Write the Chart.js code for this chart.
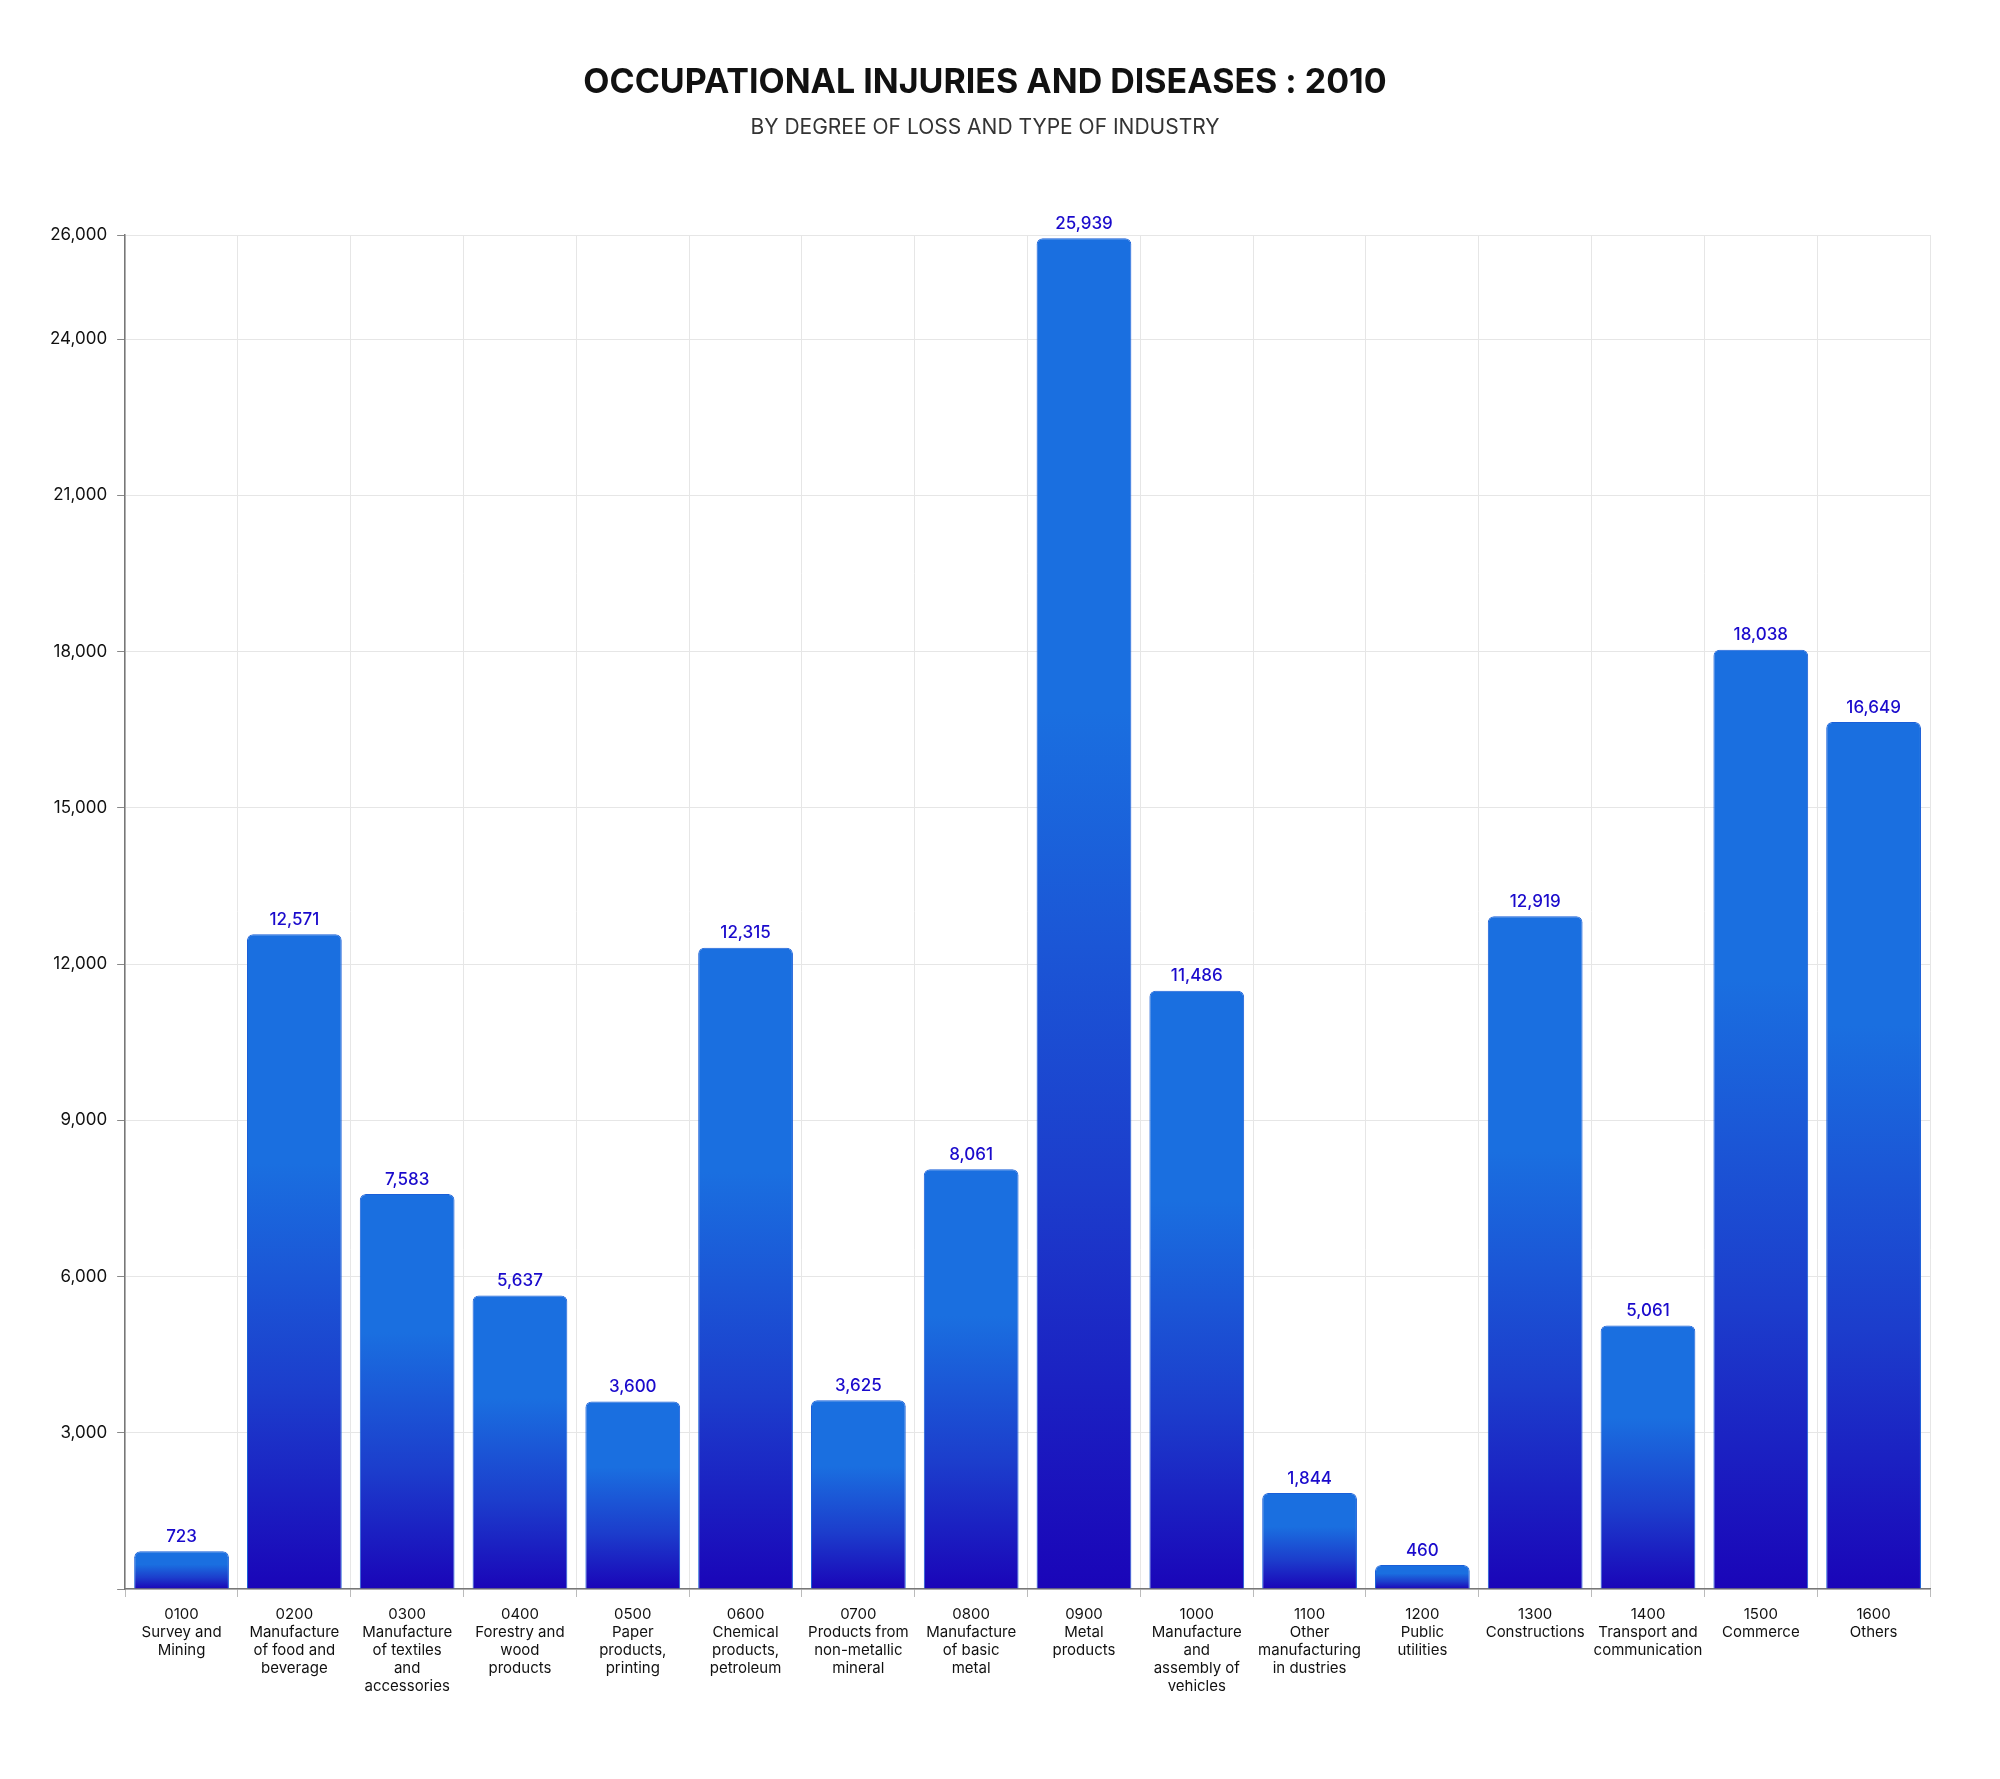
<!DOCTYPE html>
<html>
<head>
<meta charset="utf-8">
<script src="https://cdn.jsdelivr.net/npm/chart.js@4"></script>
<style>
  body { margin: 0; background: #fff; }
  #wrap { width: 2000px; height: 1779px; position: relative; }
</style>
</head>
<body>
<div id="wrap"><canvas id="chart"></canvas></div>
<script>
const categories = [
    ['0100', 'Survey and', 'Mining'],
    ['0200', 'Manufacture', 'of food and', 'beverage'],
    ['0300', 'Manufacture', 'of textiles', 'and', 'accessories'],
    ['0400', 'Forestry and', 'wood', 'products'],
    ['0500', 'Paper', 'products,', 'printing'],
    ['0600', 'Chemical', 'products,', 'petroleum'],
    ['0700', 'Products from', 'non-metallic', 'mineral'],
    ['0800', 'Manufacture', 'of basic', 'metal'],
    ['0900', 'Metal', 'products'],
    ['1000', 'Manufacture', 'and', 'assembly of', 'vehicles'],
    ['1100', 'Other', 'manufacturing', 'in dustries'],
    ['1200', 'Public', 'utilities'],
    ['1300', 'Constructions'],
    ['1400', 'Transport and', 'communication'],
    ['1500', 'Commerce'],
    ['1600', 'Others']
];
const injuries = [723, 12571, 7583, 5637, 3600, 12315, 3625, 8061, 25939, 11486, 1844, 460, 12919, 5061, 18038, 16649];
const yTicks = [0, 3000, 6000, 9000, 12000, 15000, 18000, 21000, 24000, 26000];

const font = 'Inter, "Open Sans", sans-serif';

// vertical gradient per bar, from its top to the baseline
function barGradient(context) {
    const chart = context.chart;
    const { ctx, chartArea, scales } = chart;
    if (!chartArea) return '#1a6fe0';
    const v = context.raw || 0;
    const top = scales.y.getPixelForValue(v);
    const base = scales.y.getPixelForValue(0);
    const g = ctx.createLinearGradient(0, top, 0, base);
    g.addColorStop(0, '#1a6fe0');
    g.addColorStop(0.35, '#1a6fe0');
    g.addColorStop(0.7, '#1c3dcc');
    g.addColorStop(1, '#1a05b8');
    return g;
}

const valueLabels = {
    id: 'valueLabels',
    afterDatasetsDraw(chart) {
        const ctx = chart.ctx;
        const meta = chart.getDatasetMeta(0);
        ctx.save();
        ctx.font = '500 17px ' + font;
        ctx.fillStyle = '#1a0acc';
        ctx.textAlign = 'center';
        ctx.textBaseline = 'bottom';
        meta.data.forEach((bar, i) => {
            ctx.fillText(injuries[i].toLocaleString('en-US'), bar.x, bar.y - 6);
        });
        ctx.restore();
    }
};

new Chart(document.getElementById('chart'), {
    type: 'bar',
    data: {
        labels: categories,
        datasets: [{
            label: 'Injuries',
            data: injuries,
            backgroundColor: barGradient,
            borderColor: '#1a5fd8',
            borderWidth: 1,
            borderRadius: { topLeft: 6, topRight: 6 },
            borderSkipped: 'bottom',
            categoryPercentage: 0.84,
            barPercentage: 1
        }]
    },
    options: {
        responsive: true,
        maintainAspectRatio: false,
        animation: false,
        layout: { padding: { left: 40, right: 70, top: 20, bottom: 76 } },
        plugins: {
            legend: { display: false },
            tooltip: { enabled: false },
            title: {
                display: true,
                text: 'OCCUPATIONAL INJURIES AND DISEASES : 2010',
                color: '#111',
                font: { family: font, size: 34, weight: '700' },
                padding: { top: 42, bottom: 12 }
            },
            subtitle: {
                display: true,
                text: 'BY DEGREE OF LOSS AND TYPE OF INDUSTRY',
                color: '#333',
                font: { family: font, size: 21 },
                padding: { bottom: 95 }
            }
        },
        scales: {
            y: {
                min: 0,
                max: yTicks[yTicks.length - 1],
                afterBuildTicks: axis => {
                    axis.ticks = yTicks.map(v => ({ value: v }));
                },
                ticks: {
                    color: '#111',
                    font: { family: font, size: 17 },
                    padding: 10,
                    callback: v => v === 0 ? '' : v.toLocaleString('en-US')
                },
                grid: { color: '#e6e6e6', tickLength: 8, tickColor: '#888' },
                border: { color: '#777', width: 1.5 }
            },
            x: {
                ticks: {
                    color: '#111',
                    font: { family: font, size: 15 },
                    maxRotation: 0,
                    autoSkip: false,
                    padding: 8
                },
                grid: { color: '#e6e6e6', offset: true, tickLength: 8, tickColor: '#bbb' },
                border: { color: '#777', width: 1.5 }
            }
        }
    },
    plugins: [valueLabels]
});
</script>
</body>
</html>
